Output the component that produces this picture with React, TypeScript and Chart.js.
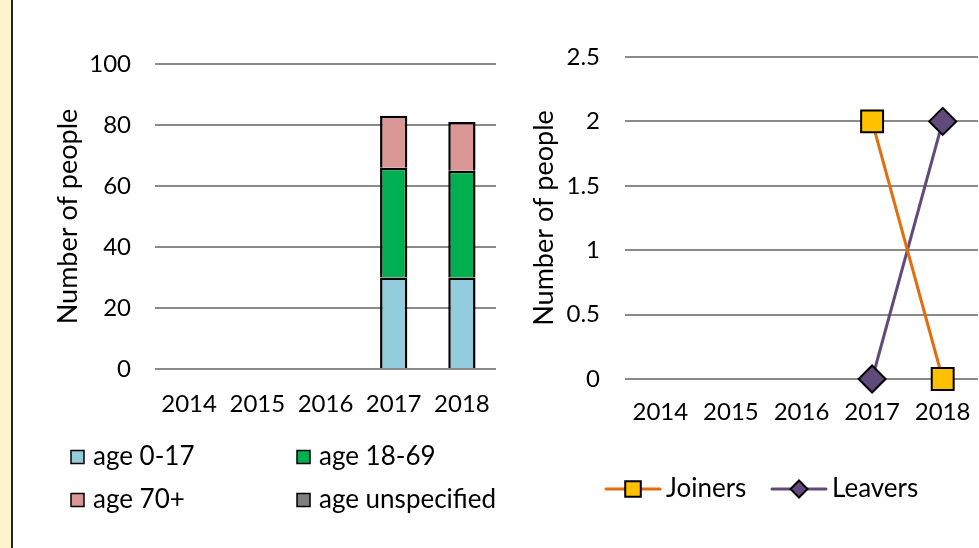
import React, { useEffect, useRef } from 'react';
import { Chart, registerables } from 'chart.js';
import { drawPoint } from 'chart.js/helpers';

Chart.register(...registerables);

// ---------- data ----------
const years = ['2014', '2015', '2016', '2017', '2018'];
const age0to17 = [null, null, null, 30, 30];
const age18to69 = [null, null, null, 36, 35];
const age70plus = [null, null, null, 17, 16];
const ageUnspecified = [null, null, null, null, null];
const ageTicks = [0, 20, 40, 60, 80, 100];

const joiners = [null, null, null, 2, 0];
const leavers = [null, null, null, 0, 2];
const flowTicks = [0, 0.5, 1, 1.5, 2, 2.5];

const yTitle = 'Number of people';

// ---------- styles ----------
const FONT = 'Lato, "Open Sans", sans-serif';
const FS = 24;
const TITLE_FS = 27;
const LEGEND_FS = 26;
const GRID = '#8a8a8a';

const gridLegend = {
  id: 'gridLegend',
  afterDraw(chart: any, _a: any, opts: any) {
    if (!opts || !opts.kind) return;
    const { ctx } = chart;
    ctx.save();
    ctx.font = `${opts.fontSize}px ${FONT}`;
    ctx.textBaseline = 'middle';
    chart.data.datasets.forEach((ds: any, i: number) => {
      const col = i % opts.cols;
      const row = Math.floor(i / opts.cols);
      const x = opts.x + col * opts.colWidth;
      const y = opts.y + row * opts.rowHeight;
      let tx = x;
      if (opts.kind === 'box') {
        const s = opts.boxSize;
        ctx.fillStyle = ds.backgroundColor;
        ctx.fillRect(x, y - s / 2, s, s);
        ctx.strokeStyle = '#000';
        ctx.lineWidth = 1.5;
        ctx.strokeRect(x, y - s / 2, s, s);
        tx = x + s + opts.gap;
      } else {
        const L = opts.lineLength;
        ctx.strokeStyle = ds.borderColor;
        ctx.lineWidth = ds.borderWidth;
        ctx.lineCap = 'round';
        ctx.beginPath();
        ctx.moveTo(x, y);
        ctx.lineTo(x + L, y);
        ctx.stroke();
        ctx.fillStyle = ds.pointBackgroundColor;
        ctx.strokeStyle = ds.pointBorderColor;
        ctx.lineWidth = 2;
        drawPoint(ctx, { pointStyle: ds.pointStyle, radius: opts.markerRadius[i], rotation: 0, borderWidth: 2 }, x + L / 2, y);
        tx = x + L + opts.gap;
      }
      ctx.fillStyle = '#000';
      ctx.textAlign = 'left';
      ctx.fillText(ds.label, tx, y);
    });
    ctx.restore();
  },
};

const xFit = (h: number) => (s: any) => {
  s.height = h;
  s.paddingLeft = 0;
  s.paddingRight = 0;
};

function BarChart() {
  const ref = useRef<HTMLCanvasElement>(null);
  useEffect(() => {
    const barStyle = { borderColor: '#000', borderWidth: 2.5, borderSkipped: 'start', inflateAmount: 0, barPercentage: 0.4, categoryPercentage: 1 };
    const chart = new Chart(ref.current!, {
      type: 'bar',
      data: {
        labels: years,
        datasets: [
          { label: 'age 0-17', data: age0to17, backgroundColor: '#93CDDD', ...barStyle },
          { label: 'age 18-69', data: age18to69, backgroundColor: '#00B050', ...barStyle },
          { label: 'age 70+', data: age70plus, backgroundColor: '#D99694', ...barStyle },
          { label: 'age unspecified', data: ageUnspecified, backgroundColor: '#7F7F7F', ...barStyle },
        ] as any,
      },
      options: {
        responsive: false,
        animation: false,
        layout: { autoPadding: false, padding: { left: 38, right: 24, top: 64, bottom: 0 } },
        plugins: {
          legend: { display: false },
          tooltip: { enabled: false },
          gridLegend: { kind: 'box', x: 57, y: 457, cols: 2, colWidth: 226, rowHeight: 43, boxSize: 13, gap: 9, fontSize: LEGEND_FS },
        } as any,
        scales: {
          x: {
            stacked: true,
            grid: { display: false },
            border: { display: false },
            ticks: { font: { family: FONT, size: FS }, color: '#000', padding: 13, maxRotation: 0 },
            afterFit: xFit(179),
          },
          y: {
            stacked: true,
            min: ageTicks[0],
            max: ageTicks[ageTicks.length - 1],
            afterBuildTicks: (s: any) => { s.ticks = ageTicks.map((v) => ({ value: v })); },
            grid: { color: GRID, lineWidth: 2, drawTicks: false },
            border: { display: false },
            ticks: { font: { family: FONT, size: FS }, color: '#000', padding: 24, callback: (v: any) => String(v) },
            title: { display: true, text: yTitle, font: { family: FONT, size: TITLE_FS }, color: '#000', padding: 0 },
            afterFit: (s: any) => { s.width = 103; },
          },
        },
      } as any,
      plugins: [gridLegend],
    });
    return () => chart.destroy();
  }, []);
  return <canvas ref={ref} width={506} height={548} style={{ position: 'absolute', left: 14, top: 0 }} />;
}

function LineChart() {
  const ref = useRef<HTMLCanvasElement>(null);
  useEffect(() => {
    const chart = new Chart(ref.current!, {
      type: 'line',
      data: {
        labels: years,
        datasets: [
          {
            label: 'Joiners', data: joiners, borderColor: '#E46C0A', borderWidth: 3,
            pointStyle: 'rect', pointRadius: 15.5, pointBackgroundColor: '#FFC000', pointBorderColor: '#000', pointBorderWidth: 2,
            clip: false,
          },
          {
            label: 'Leavers', data: leavers, borderColor: '#604A7B', borderWidth: 3,
            pointStyle: 'rectRot', pointRadius: 13.5, pointBackgroundColor: '#604A7B', pointBorderColor: '#000', pointBorderWidth: 2,
            clip: false,
          },
        ] as any,
      },
      options: {
        responsive: false,
        animation: false,
        layout: { autoPadding: false, padding: { left: 8, right: 1, top: 57, bottom: 0 } },
        plugins: {
          legend: { display: false },
          tooltip: { enabled: false },
          gridLegend: { kind: 'line', x: 86, y: 489, cols: 2, colWidth: 166, rowHeight: 40, lineLength: 54, gap: 6, markerRadius: [11, 8.5], fontSize: LEGEND_FS },
        } as any,
        scales: {
          x: {
            offset: true,
            grid: { display: false },
            border: { display: false },
            ticks: { font: { family: FONT, size: FS }, color: '#000', padding: 11, maxRotation: 0 },
            afterFit: xFit(169),
          },
          y: {
            min: flowTicks[0],
            max: flowTicks[flowTicks.length - 1],
            afterBuildTicks: (s: any) => { s.ticks = flowTicks.map((v) => ({ value: v })); },
            grid: { color: GRID, lineWidth: 2, drawTicks: false },
            border: { display: false },
            ticks: { font: { family: FONT, size: FS }, color: '#000', padding: 25, callback: (v: any) => String(v) },
            title: { display: true, text: yTitle, font: { family: FONT, size: TITLE_FS }, color: '#000', padding: 0 },
            afterFit: (s: any) => { s.width = 97; },
          },
        },
      } as any,
      plugins: [gridLegend],
    });
    return () => chart.destroy();
  }, []);
  return <canvas ref={ref} width={459} height={548} style={{ position: 'absolute', left: 520, top: 0 }} />;
}

export default function App() {
  return (
    <div style={{ position: 'fixed', left: 0, top: 0, width: 979, height: 548, background: '#fff', overflow: 'hidden' }}>
      <div style={{ position: 'absolute', left: 0, top: 0, width: 11, height: 548, background: '#FFF5CC', borderRight: '2px solid #222' }} />
      <BarChart />
      <LineChart />
    </div>
  );
}
